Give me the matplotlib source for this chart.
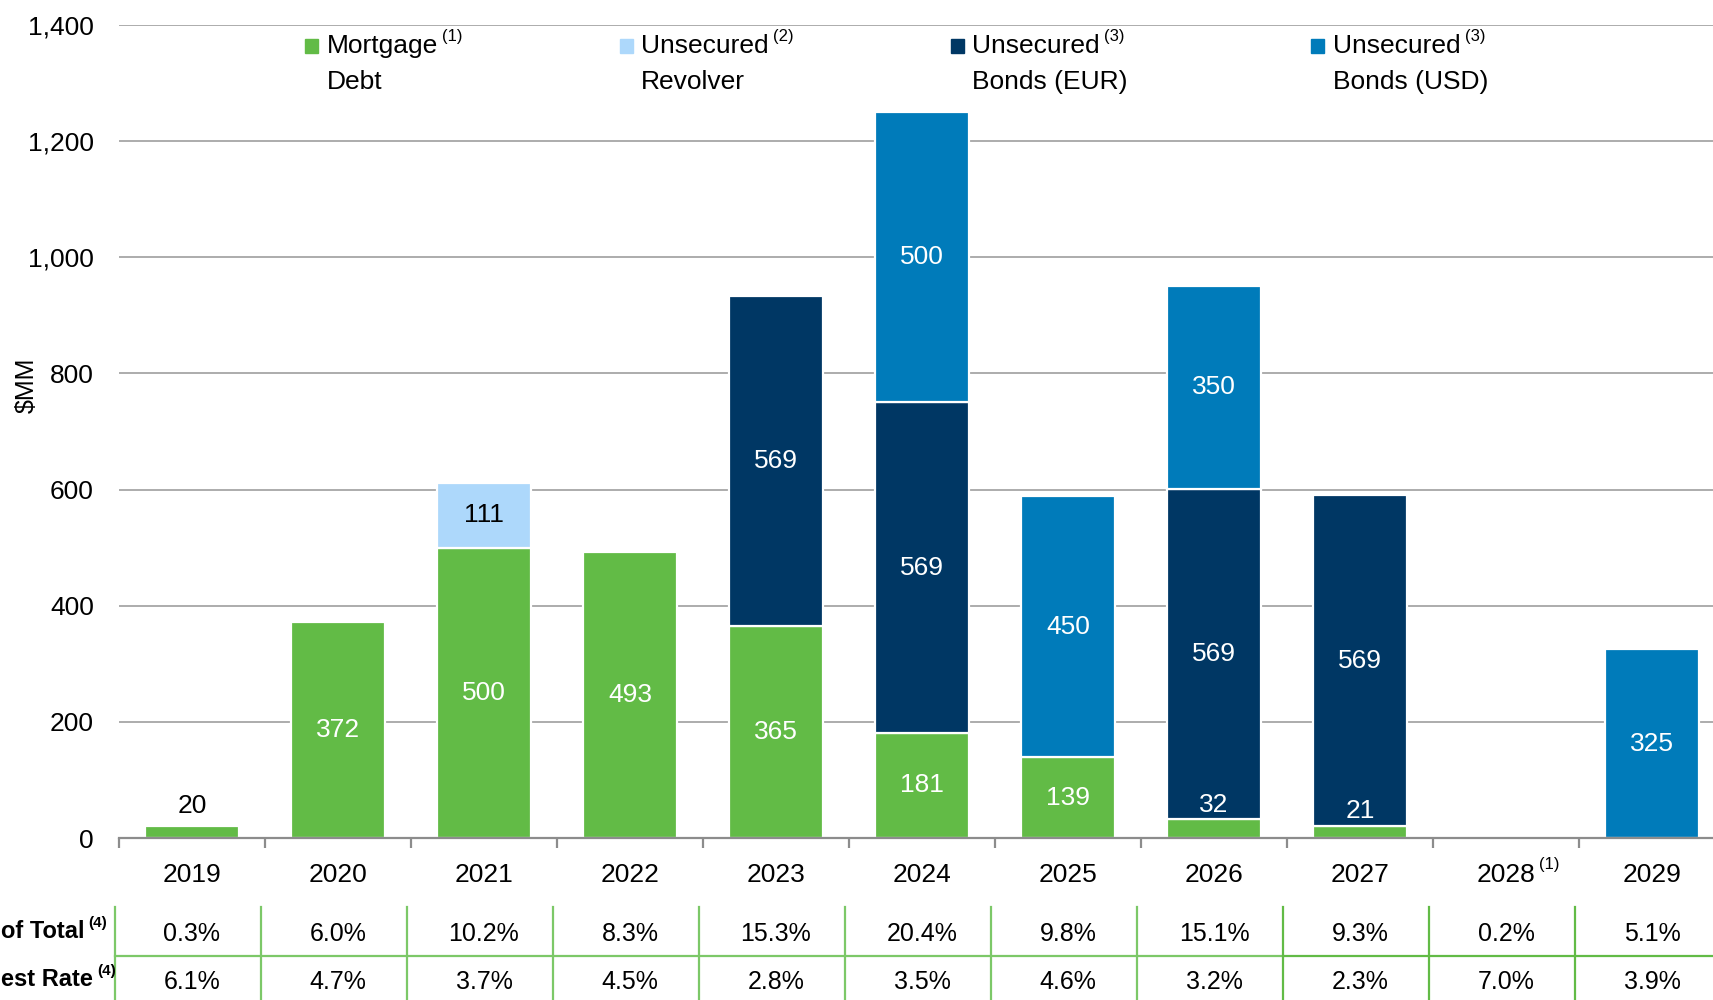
import matplotlib
matplotlib.use("Agg")
import matplotlib.pyplot as plt
import matplotlib.transforms as mtransforms
from matplotlib.patches import Rectangle
from matplotlib import font_manager
import numpy as np

# ---------------- data ----------------
years = ["2019", "2020", "2021", "2022", "2023", "2024", "2025", "2026", "2027", "2028", "2029"]
year_sup = ["", "", "", "", "", "", "", "", "", "(1)", ""]
mortgage = [20, 372, 500, 493, 365, 181, 139, 32, 21, 0, 0]
revolver = [0, 0, 111, 0, 0, 0, 0, 0, 0, 0, 0]
bonds_eur = [0, 0, 0, 0, 569, 569, 0, 569, 569, 0, 0]
bonds_usd = [0, 0, 0, 0, 0, 500, 450, 350, 0, 0, 325]
pct_total = ["0.3%", "6.0%", "10.2%", "8.3%", "15.3%", "20.4%", "9.8%", "15.1%", "9.3%", "0.2%", "5.1%"]
int_rate = ["6.1%", "4.7%", "3.7%", "4.5%", "2.8%", "3.5%", "4.6%", "3.2%", "2.3%", "7.0%", "3.9%"]
row_labels = ["of Total", "est Rate"]
series_names = [("Mortgage", "Debt", "(1)"), ("Unsecured", "Revolver", "(2)"),
                ("Unsecured", "Bonds (EUR)", "(3)"), ("Unsecured", "Bonds (USD)", "(3)")]
y_ticks = [0, 200, 400, 600, 800, 1000, 1200, 1400]

C_GREEN = "#62BB46"
C_LIGHT = "#ADD8FB"
C_NAVY = "#003764"
C_BLUE = "#007BBA"
colors = [C_GREEN, C_LIGHT, C_NAVY, C_BLUE]

# ---------------- fonts ----------------
avail = {f.name for f in font_manager.fontManager.ttflist}
if "Liberation Sans Narrow" in avail:
    NARROW = "Liberation Sans Narrow"
    s_main = 21
else:
    NARROW = "Liberation Sans"
    s_main = 19
REG = "Liberation Sans"
plt.rcParams["font.family"] = [NARROW, "DejaVu Sans"]

W, H = 1713, 1000
fig = plt.figure(figsize=(W / 100, H / 100), dpi=100)

def fx(px):
    return px / W

def fy(py):
    return 1 - py / H

# axes: left at 119 px, category width 146 px, y0 at 838 px, y1400 at 25 px
ax = fig.add_axes([fx(119), fy(838), 11 * 146 / W, (838 - 25) / H])
x = np.arange(len(years))
bw = 0.645

series = [mortgage, revolver, bonds_eur, bonds_usd]
bottom = np.zeros(len(years))
for vals, col in zip(series, colors):
    v = np.array(vals, dtype=float)
    mask = v > 0
    ax.bar(x[mask], v[mask], bw, bottom=bottom[mask], color=col,
           edgecolor="white", linewidth=1.6, zorder=3)
    bottom = bottom + v

# bar labels
for i in range(len(years)):
    b = 0.0
    for k, vals in enumerate(series):
        v = vals[i]
        if v <= 0:
            continue
        if k == 0 and i == 0:
            ax.text(x[i], v + 14, str(v), ha="center", va="bottom", color="black",
                    fontsize=s_main, zorder=5)
        elif k == 0 and v < 60:
            ax.text(x[i], v + 25, str(v), ha="center", va="center", color="white",
                    fontsize=s_main, zorder=5)
        else:
            col = "black" if k == 1 else "white"
            ax.text(x[i], b + v / 2, str(v), ha="center", va="center", color=col,
                    fontsize=s_main, zorder=5)
        b += v

ax.set_xlim(-0.5, len(years) - 0.5)
ax.set_ylim(0, 1400)
ax.set_yticks(y_ticks)
ax.set_yticklabels([f"{t:,}" for t in y_ticks], fontsize=s_main)
ax.tick_params(axis="y", length=0, pad=18)
ax.yaxis.grid(True, color="#A6A6A6", linewidth=1.3, zorder=0)
ax.set_axisbelow(True)
for s in ["left", "right", "top"]:
    ax.spines[s].set_visible(False)
ax.spines["bottom"].set_color("#8C8C8C")
ax.spines["bottom"].set_linewidth(1.6)
ax.spines["bottom"].set_zorder(4)
ax.set_xticks(np.arange(-0.5, len(years) + 0.5, 1.0))
ax.set_xticklabels([])
ax.tick_params(axis="x", direction="out", length=7, width=1.6, color="#8C8C8C")

fig.text(fx(27), fy(385), "$MM", rotation=90, ha="center", va="center", fontsize=s_main - 1)

# year labels
bt = mtransforms.blended_transform_factory(ax.transData, fig.transFigure)
ylab_texts = []
for i, yr in enumerate(years):
    t = ax.text(x[i], fy(875), yr, ha="center", va="center", fontsize=s_main,
                transform=bt, clip_on=False)
    ylab_texts.append(t)

# legend
leg_x = [(311, 327), (626, 641), (957, 972), (1317, 1333)]
leg_texts = []
for (mx, tx), col, (l1, l2, sup) in zip(leg_x, colors, series_names):
    fig.patches.append(Rectangle((fx(mx - 6.5), fy(46 + 6.5)), 13 / W, 13 / H,
                                 transform=fig.transFigure, color=col, figure=fig))
    t1 = fig.text(fx(tx), fy(46), l1, ha="left", va="center", fontsize=s_main)
    fig.text(fx(tx), fy(82), l2, ha="left", va="center", fontsize=s_main)
    leg_texts.append((t1, sup))

# table
for r, (vals, py) in enumerate(zip([pct_total, int_rate], [934, 982])):
    for i, v in enumerate(vals):
        ax.text(x[i], fy(py), v, ha="center", va="center", fontsize=18,
                family=REG, transform=bt, clip_on=False)
lab_t = []
for lab, py in zip(row_labels, [932, 980]):
    t = fig.text(fx(1), fy(py), lab, ha="left", va="center", fontsize=17,
                 family=REG, fontweight="bold")
    lab_t.append(t)

# table lines
for j in range(len(years)):
    col = "#62BB46" if j >= 8 else "#7CC868"
    ax.add_line(plt.Line2D([j - 0.5 - 0.03, j - 0.5 - 0.03], [fy(907), fy(1000)],
                           transform=bt, color=col, linewidth=1.6, clip_on=False))
ax.add_line(plt.Line2D([-0.53, 7.47], [fy(956), fy(956)], transform=bt,
                       color="#7CC868", linewidth=1.6, clip_on=False))
ax.add_line(plt.Line2D([7.47, 11.0], [fy(956), fy(956)], transform=bt,
                       color="#62BB46", linewidth=1.6, clip_on=False))

# superscripts
fig.canvas.draw()
r = fig.canvas.get_renderer()
inv = fig.transFigure.inverted()

def add_sup(t, s, bold=False, fs=12, fam=None):
    bb = t.get_window_extent(renderer=r)
    x1, ytop = inv.transform((bb.x1 + 4, bb.y1))
    fig.text(x1, ytop - 0.002, s, ha="left", va="center", fontsize=fs,
             fontweight="bold" if bold else "normal", family=fam or NARROW)

for t1, sup in leg_texts:
    add_sup(t1, sup)
add_sup(ylab_texts[9], year_sup[9])
for t in lab_t:
    add_sup(t, "(4)", bold=True, fs=11, fam=REG)

fig.savefig("out.png", dpi=100)
